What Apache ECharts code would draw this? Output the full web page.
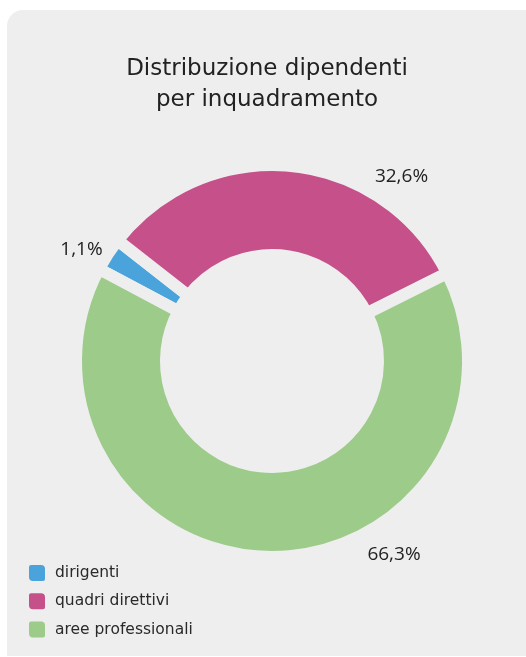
<!DOCTYPE html>
<html>
<head>
<meta charset="utf-8">
<script src="https://cdn.jsdelivr.net/npm/echarts@6/dist/echarts.min.js"></script>
<style>
html,body{margin:0;padding:0;background:#ffffff;}
#chart{width:526px;height:657px;}
</style>
</head>
<body>
<div id="chart"></div>
<script>
// ---- data ----
const categories = ['dirigenti', 'quadri direttivi', 'aree professionali'];
const values = [1.1, 32.6, 66.3];
const colors = ['#4AA3DA', '#C5508A', '#9CCB8A'];
const titleText = 'Distribuzione dipendenti\nper inquadramento';

// ---- layout (not data) ----
const labelPos = [[81.5, 249.5], [401.5, 176.5], [394, 555]];
const BG = '#eeeeee';
const FONT = '"Open Sans", "DejaVu Sans", sans-serif';
const WIDE = '"DejaVu Sans", "Open Sans", sans-serif';

const chart = echarts.init(document.getElementById('chart'), null, {renderer: 'canvas'});
chart.setOption({
  animation: false,
  backgroundColor: '#ffffff',
  graphic: [{
    type: 'rect', left: 7, top: 10, z: -10, silent: true,
    shape: {width: 620, height: 646, r: [16, 0, 0, 0]},
    style: {fill: BG}
  }],
  title: {
    text: titleText,
    left: 267,
    textAlign: 'center',
    top: 54,
    padding: 0,
    textStyle: {fontFamily: WIDE, fontSize: 23, fontWeight: 400, color: '#222222', lineHeight: 31}
  },
  legend: {
    orient: 'vertical',
    left: 27,
    top: 563,
    padding: 0,
    itemWidth: 18,
    itemHeight: 18,
    itemGap: 8.3,
    icon: 'path://M3,0 H13 Q18,0 18,5 V15 Q18,18 15,18 H5 Q0,18 0,13 V3 Q0,0 3,0 Z',
    selectedMode: false,
    data: categories,
    textStyle: {fontFamily: WIDE, fontSize: 15.5, color: '#2a2a2a', padding: [0, 0, 0, 4]}
  },
  series: [{
    type: 'pie',
    center: [272, 361],
    radius: [106, 196],
    startAngle: 152,
    minAngle: 10,
    clockwise: true,
    avoidLabelOverlap: false,
    silent: true,
    itemStyle: {borderColor: BG, borderWidth: 12},
    label: {
      show: true,
      position: 'outside',
      fontFamily: FONT,
      fontSize: 19,
      color: '#222222',
      formatter: p => p.value.toFixed(1).replace('.', ',') + '%'
    },
    labelLine: {show: false},
    labelLayout: function (params) {
      const p = labelPos[params.dataIndex];
      return {x: p[0], y: p[1], align: 'center', verticalAlign: 'middle'};
    },
    emphasis: {disabled: true},
    data: categories.map((c, i) => ({name: c, value: values[i], itemStyle: {color: colors[i]}}))
  }]
});
</script>
</body>
</html>
